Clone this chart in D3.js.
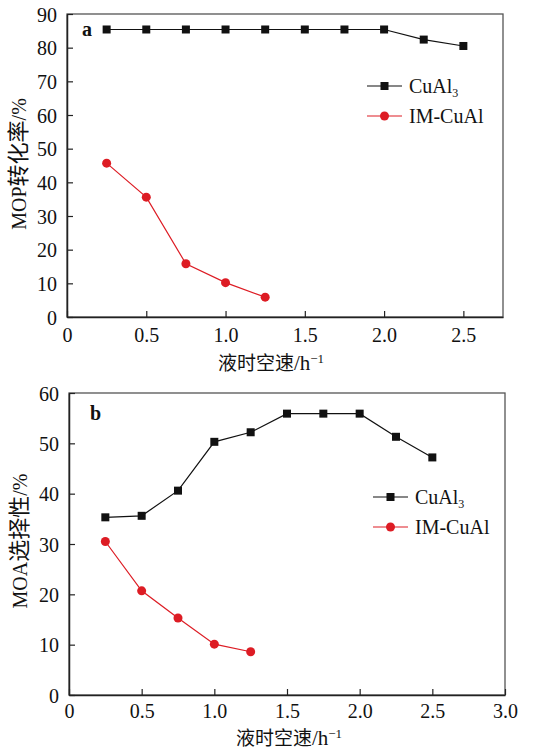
<!DOCTYPE html>
<html>
<head>
<meta charset="utf-8">
<script src="https://cdn.jsdelivr.net/npm/d3@7"></script>
<style>
  body { margin: 0; background: #fff; }
  svg { display: block; }
  text { font-family: "Liberation Serif", "Times New Roman", serif; fill: #111; }
  .cjk { font-family: "Noto Sans CJK SC", sans-serif; }
</style>
</head>
<body>
<svg id="chart" width="544" height="751"></svg>
<script>
// shared x categories (liquid hourly space velocity)
const lhsv = [0.25, 0.5, 0.75, 1.0, 1.25, 1.5, 1.75, 2.0, 2.25, 2.5];
const lhsvIM = [0.25, 0.5, 0.75, 1.0, 1.25];

// panel a: MOP conversion
const convCuAl3 = [85.4, 85.4, 85.4, 85.4, 85.4, 85.4, 85.4, 85.4, 82.4, 80.5];
const convIM = [45.7, 35.6, 15.8, 10.2, 5.9];
const xTicksA = [0, 0.5, 1.0, 1.5, 2.0, 2.5];
const yTicksA = [0, 10, 20, 30, 40, 50, 60, 70, 80, 90];

// panel b: MOA selectivity
const selCuAl3 = [35.3, 35.6, 40.6, 50.3, 52.2, 55.9, 55.9, 55.9, 51.3, 47.2];
const selIM = [30.5, 20.7, 15.3, 10.1, 8.6];
const xTicksB = [0, 0.5, 1.0, 1.5, 2.0, 2.5, 3.0];
const yTicksB = [0, 10, 20, 30, 40, 50, 60];

const RED = '#dd1c24';
const svg = d3.select('#chart');
const fmt = d => d === 0 ? '0' : d3.format('.1f')(d);

function panel(o) {
  const g = svg.append('g');
  const x = d3.scaleLinear().domain(o.xDomain).range([o.left, o.right]);
  const y = d3.scaleLinear().domain(o.yDomain).range([o.bottom, o.top]);

  // frame
  g.append('rect')
    .attr('x', o.left).attr('y', o.top)
    .attr('width', o.right - o.left).attr('height', o.bottom - o.top)
    .attr('fill', 'none').attr('stroke', '#555').attr('stroke-width', 1.3);

  const xa = g.append('g').attr('transform', `translate(0,${o.bottom})`)
    .call(d3.axisBottom(x).tickValues(o.xTicks).tickSizeInner(-6).tickSizeOuter(0).tickPadding(o.xPad).tickFormat(fmt));
  const ya = g.append('g').attr('transform', `translate(${o.left},0)`)
    .call(d3.axisLeft(y).tickValues(o.yTicks).tickSizeInner(-6).tickSizeOuter(0).tickPadding(10));
  [xa, ya].forEach(a => {
    a.select('.domain').attr('stroke', '#222').attr('stroke-width', 1.5);
    a.selectAll('.tick line').attr('stroke', '#222').attr('stroke-width', 1.2);
    a.selectAll('.tick text').attr('font-family', '"Liberation Serif", serif')
      .attr('font-size', 20).attr('fill', '#000');
  });
  xa.selectAll('.tick text').attr('dy', '0.8em');
  ya.selectAll('.tick text').attr('dy', '0.36em');

  const line = d3.line().x(d => x(d[0])).y(d => y(d[1]));
  const black = lhsv.map((v, i) => [v, o.black[i]]);
  const red = lhsvIM.map((v, i) => [v, o.red[i]]);

  g.append('path').datum(black).attr('d', line)
    .attr('fill', 'none').attr('stroke', '#111').attr('stroke-width', 1.2);
  g.append('path').datum(red).attr('d', line)
    .attr('fill', 'none').attr('stroke', RED).attr('stroke-width', 1.2);
  g.selectAll('.sq').data(black).join('rect')
    .attr('x', d => x(d[0]) - 4).attr('y', d => y(d[1]) - 4)
    .attr('width', 8).attr('height', 8).attr('fill', '#111');
  g.selectAll('.ci').data(red).join('circle')
    .attr('cx', d => x(d[0])).attr('cy', d => y(d[1])).attr('r', 4.5).attr('fill', RED);

  // panel letter
  g.append('text').attr('x', o.letterX).attr('y', o.letterY)
    .attr('font-size', 20).attr('font-weight', 'bold').text(o.letter);

  // legend
  const lg = g.append('g').attr('transform', `translate(${o.legX},${o.legY})`);
  lg.append('line').attr('x1', 0).attr('x2', 35).attr('y1', 0).attr('y2', 0)
    .attr('stroke', '#111').attr('stroke-width', 1.2);
  lg.append('rect').attr('x', 13.5).attr('y', -4).attr('width', 8).attr('height', 8).attr('fill', '#111');
  const t1 = lg.append('text').attr('x', 42).attr('y', 7).attr('font-size', 20);
  t1.append('tspan').text('CuAl');
  t1.append('tspan').attr('font-size', 12).attr('dy', 4).text('3');
  lg.append('line').attr('x1', 0).attr('x2', 35).attr('y1', 30).attr('y2', 30)
    .attr('stroke', RED).attr('stroke-width', 1.2);
  lg.append('circle').attr('cx', 17.5).attr('cy', 30).attr('r', 4.5).attr('fill', RED);
  lg.append('text').attr('x', 42).attr('y', 37).attr('font-size', 20).text('IM-CuAl');

  // x title
  const xt = g.append('text').attr('x', o.xTitleX).attr('y', o.bottom + o.xTitleDy)
    .attr('text-anchor', 'middle').attr('font-size', 21);
  xt.append('tspan').attr('class', 'cjk').attr('font-size', 19).text('液时空速');
  xt.append('tspan').text('/h');
  xt.append('tspan').attr('font-size', 13).attr('dy', -7).text('−1');

  // y title
  const yt = g.append('text')
    .attr('transform', `translate(${o.yTitleX},${o.yTitleY}) rotate(-90)`)
    .attr('text-anchor', 'middle').attr('font-size', 20);
  yt.append('tspan').text(o.yPre);
  yt.append('tspan').attr('class', 'cjk').attr('font-size', 22).text(o.yCjk);
  yt.append('tspan').text('/%');
}

panel({
  left: 67, right: 503, top: 14, bottom: 317,
  xDomain: [0, 2.75], yDomain: [0, 90], xTicks: xTicksA, yTicks: yTicksA,
  black: convCuAl3, red: convIM, xPad: 9,
  letter: 'a', letterX: 82, letterY: 36,
  legX: 367, legY: 86, xTitleX: 271, xTitleDy: 53,
  yPre: 'MOP', yCjk: '转化率', yTitleX: 26, yTitleY: 164
});

panel({
  left: 69, right: 505, top: 393, bottom: 695,
  xDomain: [0, 3.0], yDomain: [0, 60], xTicks: xTicksB, yTicks: yTicksB,
  black: selCuAl3, red: selIM, xPad: 7,
  letter: 'b', letterX: 90, letterY: 420,
  legX: 373, legY: 497, xTitleX: 289, xTitleDy: 50,
  yPre: 'MOA', yCjk: '选择性', yTitleX: 27, yTitleY: 541
});
</script>
</body>
</html>
